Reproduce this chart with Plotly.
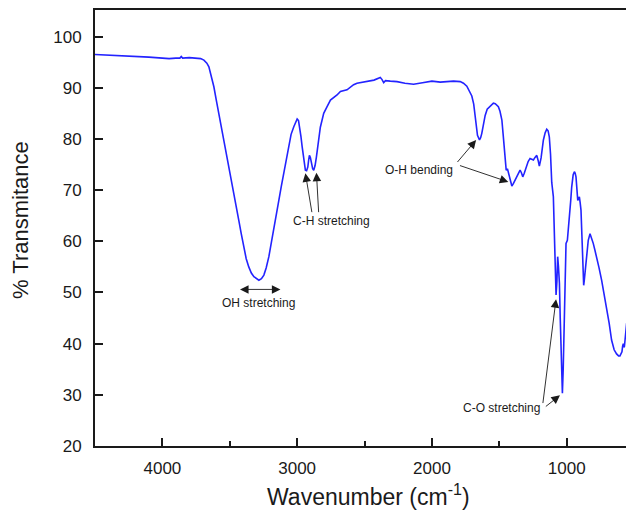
import plotly.graph_objects as go

# FTIR spectrum: wavenumber (cm^-1) and % transmittance
wavenumber = [
    4500, 4400, 4300, 4200, 4100, 4000, 3950, 3900, 3870, 3860, 3850, 3800, 3750,
    3716, 3692, 3670, 3655, 3637, 3618, 3600, 3581, 3562, 3544, 3525, 3507, 3488,
    3470, 3451, 3433, 3415, 3396, 3378, 3359, 3340, 3321, 3300, 3284, 3265, 3247,
    3230, 3210, 3190, 3173, 3155, 3136, 3118, 3099, 3080, 3062, 3045, 3025, 3010,
    3000, 2990, 2981, 2972, 2963, 2950, 2939, 2930, 2921, 2915, 2909, 2902, 2894,
    2885, 2877, 2867, 2857, 2848, 2840, 2828, 2815, 2803, 2778, 2753, 2704, 2679,
    2630, 2581, 2556, 2481, 2430, 2383, 2370, 2358, 2345, 2309, 2259, 2200, 2136,
    2070, 2000, 1938, 1890, 1840, 1790, 1766, 1741, 1720, 1704, 1690, 1679, 1670,
    1662, 1647, 1638, 1630, 1618, 1605, 1590, 1573, 1555, 1544, 1530, 1515, 1507,
    1495, 1481, 1472, 1464, 1455, 1449, 1440, 1430, 1420, 1407, 1395, 1383, 1365,
    1346, 1336, 1326, 1315, 1301, 1286, 1272, 1247, 1235, 1222, 1212, 1203, 1190,
    1173, 1160, 1148, 1138, 1129, 1120, 1111, 1099, 1092, 1086, 1079, 1073, 1067,
    1061, 1054, 1048, 1042, 1036, 1032, 1026, 1020, 1012, 1005, 995, 980, 970,
    963, 952, 943, 937, 931, 924, 918, 912, 906, 900, 894, 887, 881, 874, 869,
    864, 858, 852, 840, 827, 815, 803, 790, 778, 760, 741, 722, 704, 685, 667,
    648, 630, 615, 605, 597, 590, 585, 580, 576, 572, 566, 561, 555,
]
transmittance = [
    96.5, 96.4, 96.3, 96.2, 96.0, 95.8, 95.7, 95.8, 95.8, 96.1, 95.8, 95.9, 95.8,
    95.7, 95.4, 94.8, 94.1, 92.3, 90.2, 87.6, 85.0, 82.4, 79.8, 77.2, 74.5, 72.0,
    69.4, 66.8, 64.1, 61.5, 58.9, 56.6, 55.0, 53.8, 53.1, 52.6, 52.4, 52.7, 53.4,
    54.8, 57.0, 60.0, 62.8, 65.4, 68.0, 70.7, 73.3, 76.2, 79.1, 80.9, 82.4, 83.4,
    83.9, 83.6, 82.4, 80.5, 78.5, 75.5, 73.9, 73.8, 74.5, 75.8, 76.8, 76.4, 75.2,
    74.2, 73.9, 74.8, 76.5, 78.6, 80.4, 82.3, 83.7, 85.0, 86.3, 87.6, 88.6, 89.3,
    89.6, 90.6, 90.9, 91.3, 91.5, 92.0, 91.6, 91.0, 91.4, 91.3, 91.2, 90.9, 90.7,
    91.0, 91.3, 91.1, 91.2, 91.3, 91.2, 90.9, 90.3, 89.3, 88.4, 86.8, 84.3, 82.5,
    80.7, 79.8, 80.3, 81.1, 82.8, 84.6, 85.8, 86.3, 86.8, 87.0, 86.9, 86.6, 86.3,
    85.4, 83.7, 81.0, 78.5, 76.0, 73.9, 74.2, 73.2, 72.3, 70.8, 71.3, 72.0, 73.0,
    73.9, 73.4, 72.6, 73.3, 74.6, 75.6, 76.2, 75.9, 76.4, 76.8, 75.8, 74.7, 76.3,
    79.8, 81.2, 81.9, 81.6, 80.4, 77.0, 71.5, 68.7, 63.0, 58.3, 49.5, 52.0, 57.0,
    55.0, 51.8, 45.0, 38.8, 33.0, 30.3, 35.0, 42.0, 52.0, 59.6, 60.2, 64.1, 68.0,
    70.6, 73.0, 73.6, 73.3, 72.6, 70.0, 68.0, 68.3, 68.7, 67.5, 66.1, 61.0, 57.0, 51.4, 52.5,
    53.7, 55.3, 57.6, 60.2, 61.5, 60.7, 59.6, 58.2, 57.0, 54.8, 52.4, 49.8, 47.2, 44.0, 40.7,
    38.8, 38.0, 37.6, 37.6, 38.0, 38.4, 39.5, 40.0, 39.3, 39.4, 41.0, 42.7, 44.0,
]

x_ticks = [4000, 3000, 2000, 1000]
y_ticks = [20, 30, 40, 50, 60, 70, 80, 90, 100]

FONT = "Arial, Liberation Sans, sans-serif"
INK = "#1a1a1a"

fig = go.Figure()
fig.add_trace(go.Scatter(
    x=wavenumber, y=transmittance, mode="lines",
    line=dict(color="#2323ff", width=1.6),
    showlegend=False, hoverinfo="skip",
))

# band labels and their pointer arrows (head at x/y, tail at ax/ay)
arrows = [
    # OH stretching (double-headed)
    dict(x=3124, y=50.6, ax=3435, ay=50.6, arrowside="end+start"),
    # C-H stretching
    dict(x=2939, y=73.3, ax=2889, ay=65.4),
    dict(x=2857, y=73.4, ax=2840, ay=65.4),
    # O-H bending
    dict(x=1672, y=79.8, ax=1820, ay=75.2),
    dict(x=1433, y=71.6, ax=1803, ay=74.9),
    # C-O stretching
    dict(x=1079, y=48.7, ax=1178, ay=28.1),
    dict(x=1050, y=29.9, ax=1166, ay=27.5),
]
for a in arrows:
    fig.add_annotation(
        x=a["x"], y=a["y"], ax=a["ax"], ay=a["ay"],
        xref="x", yref="y", axref="x", ayref="y",
        text="", showarrow=True, arrowhead=2, arrowsize=1.9, arrowwidth=0.9,
        arrowcolor=INK, arrowside=a.get("arrowside", "end"),
    )

labels = [
    ("OH stretching", 3287, 47.9),
    ("C-H stretching", 2746, 63.9),
    ("O-H bending", 2094, 73.9),
    ("C-O stretching", 1483, 27.4),
]
for text, lx, ly in labels:
    fig.add_annotation(
        x=lx, y=ly, xref="x", yref="y", text=text, showarrow=False,
        font=dict(family=FONT, size=12, color=INK),
        xanchor="center", yanchor="middle",
    )

# axis titles
fig.add_annotation(
    x=(20 - 95) / 531, y=(446 - 220) / 436, xref="paper", yref="paper",
    text="% Transmitance", textangle=-90, showarrow=False,
    font=dict(family=FONT, size=22, color=INK),
    xanchor="center", yanchor="middle",
)
fig.add_annotation(
    x=(369 - 95) / 531, y=(446 - 495) / 436, xref="paper", yref="paper",
    text="Wavenumber (cm<sup>-1</sup>)", showarrow=False,
    font=dict(family=FONT, size=23, color=INK),
    xanchor="center", yanchor="middle",
)

fig.update_layout(
    width=626, height=512,
    margin=dict(l=95, r=0, t=10, b=66),
    paper_bgcolor="white", plot_bgcolor="white",
    font=dict(family=FONT, color=INK),
)
fig.update_xaxes(
    range=[4500, 560], autorange=False,
    tickvals=x_ticks, ticktext=[str(v) for v in x_ticks],
    ticks="inside", ticklen=8, tickwidth=1.5, tickcolor=INK,
    minor=dict(dtick=500, tick0=0, ticks="inside", ticklen=5, tickwidth=1.5, tickcolor=INK),
    showline=True, linecolor=INK, linewidth=2, mirror=True,
    showgrid=False, zeroline=False,
    tickfont=dict(family=FONT, size=17, color=INK),
    ticklabelstandoff=6,
)
fig.update_yaxes(
    range=[20, 105.2], autorange=False,
    tickvals=y_ticks,
    ticks="inside", ticklen=8, tickwidth=1.5, tickcolor=INK,
    showline=True, linecolor=INK, linewidth=2,
    showgrid=False, zeroline=False,
    tickfont=dict(family=FONT, size=17, color=INK),
    ticklabelstandoff=8,
)

fig.write_html("out.html")
